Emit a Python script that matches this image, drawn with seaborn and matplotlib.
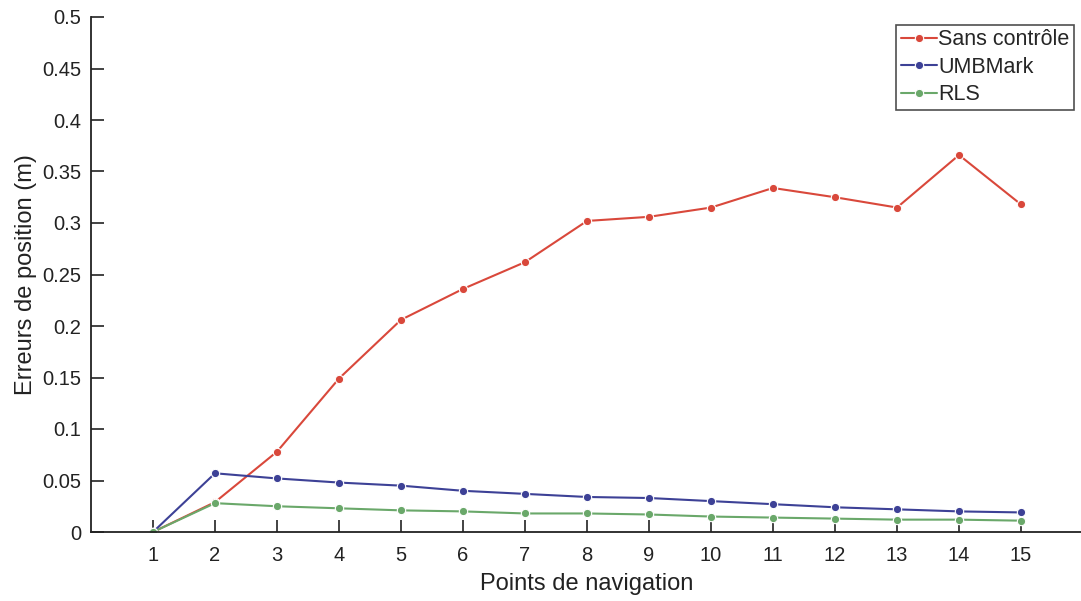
import numpy as np
import pandas as pd
import matplotlib.pyplot as plt
import seaborn as sns

# Data
points = list(range(1, 16))
sans_controle = [0.0, 0.029, 0.078, 0.149, 0.206, 0.236, 0.262, 0.302,
                 0.306, 0.315, 0.334, 0.325, 0.315, 0.366, 0.318]
umbmark = [0.0, 0.057, 0.052, 0.048, 0.045, 0.040, 0.037, 0.034,
           0.033, 0.030, 0.027, 0.024, 0.022, 0.020, 0.019]
rls = [0.0, 0.028, 0.025, 0.023, 0.021, 0.020, 0.018, 0.018,
       0.017, 0.015, 0.014, 0.013, 0.012, 0.012, 0.011]
series_names = ["Sans contrôle", "UMBMark", "RLS"]
series_colors = ["#d9483b", "#3d4196", "#6aa86a"]

df = pd.DataFrame({
    "point": points * 3,
    "erreur": sans_controle + umbmark + rls,
    "methode": np.repeat(series_names, len(points)),
})

sns.set_style("ticks")
plt.rcParams["font.family"] = ["Liberation Sans", "DejaVu Sans"]

fig = plt.figure(figsize=(10.81, 6.01), dpi=100)
ax = fig.add_axes([91 / 1081, 1 - 532 / 601, 992 / 1081, 515 / 601])

sns.lineplot(data=df, x="point", y="erreur", hue="methode",
             hue_order=series_names, palette=series_colors,
             marker="o", markersize=6, markeredgewidth=0.8,
             linewidth=1.5, ax=ax)

ax.set_xlim(0, 16)
ax.set_ylim(0, 0.5)
ax.set_xticks(points)
ax.set_yticks(np.arange(0, 0.501, 0.05))
ax.set_yticklabels(["0", "0.05", "0.1", "0.15", "0.2", "0.25", "0.3",
                    "0.35", "0.4", "0.45", "0.5"])
ax.tick_params(direction="in", length=9, width=1.2, labelsize=14.5,
               colors="#222222")
ax.tick_params(axis="y", pad=7)
ax.tick_params(axis="x", pad=10)
ax.set_xlabel("Points de navigation", fontsize=17, color="#222222",
              labelpad=6)
ax.set_ylabel("Erreurs de position (m)", fontsize=17, color="#222222",
              labelpad=4)

sns.despine(ax=ax)
for side in ["left", "bottom"]:
    ax.spines[side].set_linewidth(1.3)
    ax.spines[side].set_color("#222222")

leg = ax.legend(loc="upper right", bbox_to_anchor=(1074 / 1081, 1 - 25 / 601),
                bbox_transform=fig.transFigure, fontsize=15.5,
                handlelength=1.7, handletextpad=0.05, labelspacing=0.3,
                borderpad=0.2, borderaxespad=0, fancybox=False, frameon=True)
leg.get_frame().set_edgecolor("#222222")
leg.get_frame().set_linewidth(1.2)

fig.savefig("out.png", dpi=100)
